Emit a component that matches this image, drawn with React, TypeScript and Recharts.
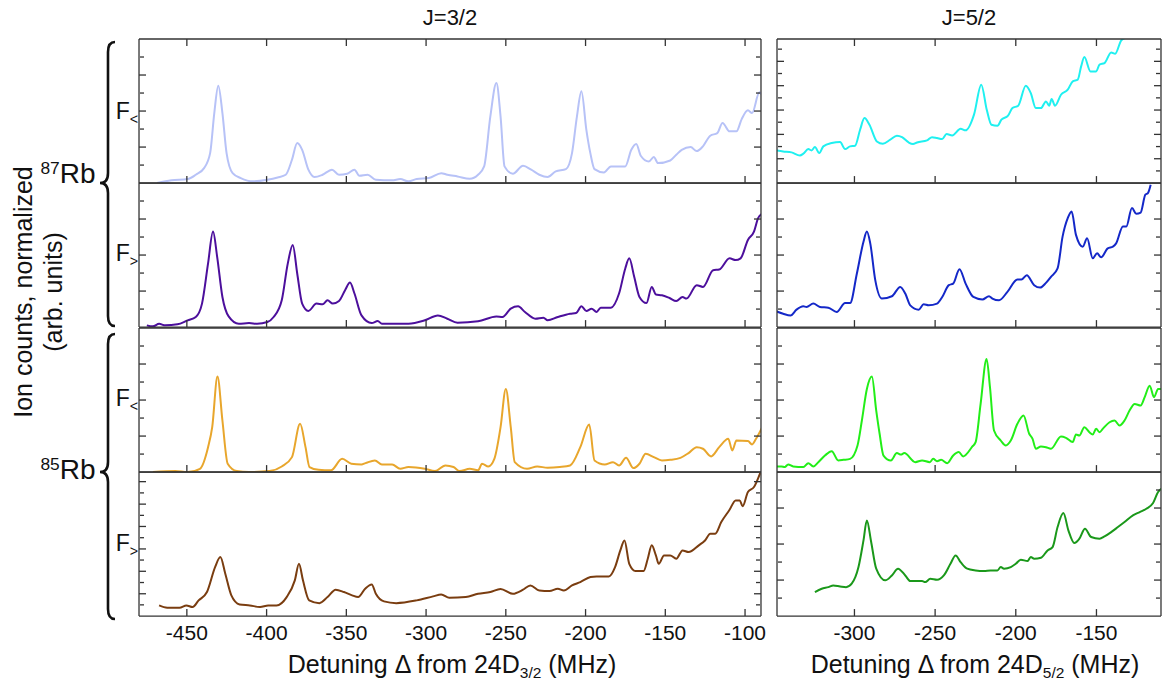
import React from "react";
import { Line, LineChart, XAxis, YAxis } from "recharts";

const FONT = "'Liberation Sans', Arial, sans-serif";
const FRAME = "#333";

// x axes (detuning, MHz)
const xTicksJ32 = [-450, -400, -350, -300, -250, -200, -150, -100];
const xTicksJ52 = [-300, -250, -200, -150];
const domainJ32: [number, number] = [-480, -90];
const domainJ52: [number, number] = [-348, -110];

// y ticks, every panel runs 0..100 (arb. units)
const yMajor8 = [25, 50, 75];
const yMinor8 = [12.5, 37.5, 62.5, 87.5];
const yMajorFine = [16.9, 33.8, 50.7, 67.6, 84.5];
const yMinorFine = [8.45, 25.35, 42.25, 59.15, 76.05, 92.95];
const yMajorL4 = [15.5, 31.1, 46.6, 62.2, 77.7, 93.3];
const yMinorL4 = [7.8, 23.3, 38.9, 54.4, 69.9, 85.5];

// J=3/2, 87Rb F<
const rb87LowJ32: [number, number][] = [
  [-468.7, 0], [-459.7, 1.9], [-449.5, 2.8], [-444.4, 5.8], [-439.2, 10.4], [-435.4, 20.8],
  [-432.8, 48.6], [-430.3, 67.6], [-427.7, 48.6], [-425.1, 20.8], [-421.3, 6.9], [-416.2, 3.5],
  [-408.5, 1.2], [-399.5, 2.3], [-393.1, 3.9], [-388, 5.8], [-384.1, 16.2], [-380.8, 27.8],
  [-377.7, 23.1], [-373.8, 9.3], [-370, 4.2], [-364.9, 5.8], [-359, 9.3], [-354.6, 5.8],
  [-349.5, 6.5], [-344.9, 9.3], [-341.8, 5.1], [-336.7, 5.8], [-331.5, 2.3], [-321.3, 1.9],
  [-316.2, 2.8], [-311, 1.2], [-305.9, 2.8], [-298.2, 3.5], [-290.5, 6.9], [-286.7, 5.8],
  [-280.3, 4.6], [-272.6, 3.0], [-267.4, 5.8], [-263.6, 11.6], [-259.7, 46.3], [-255.9, 69.4],
  [-253.3, 46.3], [-250.8, 11.6], [-245.6, 6.5], [-239.2, 12.0], [-234.1, 9.3], [-229, 5.8],
  [-223.8, 4.2], [-218.7, 8.1], [-212.3, 9.7], [-208.5, 20.8], [-205.4, 46.3], [-202.6, 63.7],
  [-199.5, 37], [-197, 20.8], [-194.4, 9.7], [-188.5, 7.4], [-184.1, 11.6], [-175.1, 11.6],
  [-171.3, 23.1], [-168.2, 27.1], [-165.4, 19], [-160.3, 15], [-157.2, 18.1], [-154.6, 13.9],
  [-146.9, 15.7], [-143.1, 19.7], [-139.7, 23.1], [-134.1, 25], [-130.3, 22.2], [-126.4, 25.5],
  [-121.8, 32.9], [-117.4, 34.7], [-114.1, 41.7], [-109.7, 35.9], [-105.4, 35.9], [-102.1, 44.4],
  [-98.2, 50.5], [-95.6, 48.6], [-91, 63], [-89.4, 61.3],
];

// J=3/2, 87Rb F>
const rb87HighJ32: [number, number][] = [
  [-475.1, 1.2], [-471.3, 0.5], [-467.4, 2.3], [-463.6, 1.2], [-455.9, 1.9], [-449.5, 4.7],
  [-444.4, 7.0], [-440.5, 16.3], [-436.7, 44.2], [-433.6, 66.3], [-431, 48.8], [-427.7, 20.9],
  [-423.8, 7.4], [-417.4, 2.3], [-411, 2.8], [-405.9, 2.3], [-399.5, 3.5], [-395.6, 7.0],
  [-390.5, 18.6], [-386.7, 44.2], [-383.6, 57.0], [-380.8, 37.2], [-377.7, 16.3], [-373.8, 11.2],
  [-368.7, 16.3], [-364.9, 15.8], [-361.8, 18.6], [-358.5, 16.3], [-354.6, 18.1], [-350.8, 25.6],
  [-347.7, 30.9], [-344.9, 23.3], [-340.5, 8.1], [-334.1, 2.8], [-330.3, 4.2], [-327.7, 2.3],
  [-311, 2.3], [-300.8, 4.7], [-292.6, 8.1], [-286.7, 5.8], [-280.3, 3.0], [-267.4, 4.0],
  [-255.9, 7.4], [-252.1, 7.0], [-246.9, 12.8], [-242.3, 14.4], [-238, 10.5], [-231.5, 5.8],
  [-226.4, 6.5], [-223.8, 4.7], [-217.4, 7.0], [-209.7, 9.3], [-205.9, 9.8], [-202.6, 14.4],
  [-199.5, 11.2], [-196.2, 12.8], [-193.1, 10.5], [-190.5, 13.5], [-184.1, 13.5], [-179, 23.3],
  [-175.1, 40.7], [-172.6, 47.7], [-169.5, 34.9], [-166.2, 20.9], [-161.8, 16.7], [-158.5, 27.9],
  [-155.9, 22.6], [-152.1, 22.1], [-147.4, 20.2], [-143.1, 18.1], [-139.2, 20.9], [-136.7, 19.8],
  [-130.3, 29.1], [-126.4, 27.9], [-120, 39.5], [-116.2, 40], [-109.7, 47.7], [-105.9, 46.5],
  [-102.8, 47.7], [-98.2, 60.5], [-94.4, 66.3], [-91.8, 75.6], [-89.4, 78.6],
];

// J=3/2, 85Rb F<
const rb85LowJ32: [number, number][] = [
  [-471.3, 0], [-457.2, 0.7], [-449.5, 0], [-441.8, 2.3], [-436.7, 17.3], [-434.1, 31.2],
  [-430.8, 66.3], [-427.7, 35.8], [-424.4, 5.8], [-418.7, 0.7], [-411, 0], [-398.2, 0.7],
  [-390.5, 3.9], [-384.1, 10.4], [-379, 33.5], [-375.6, 17.3], [-373.1, 3.5], [-367.4, 1.6],
  [-359.7, 1.2], [-352.6, 9.2], [-346.9, 5.8], [-340.5, 5.3], [-338, 6.2], [-332.1, 8.1],
  [-327.7, 5.3], [-321.3, 5.3], [-316.2, 2.3], [-311, 3.5], [-300.8, 2.3], [-294.4, 0.7],
  [-287.9, 4.6], [-282.8, 3.5], [-279, 0.7], [-272.6, 2.3], [-267.4, 1.2], [-264.9, 5.8],
  [-261, 3.9], [-257.2, 9.2], [-253.3, 31.2], [-250, 57.7], [-246.9, 31.2], [-244.4, 6.9],
  [-236.7, 2.3], [-230.3, 3.9], [-223.8, 3.0], [-216.2, 3.5], [-209.7, 4.6], [-203.3, 17.3],
  [-197.7, 33], [-194.4, 8.1], [-188, 5.3], [-182.8, 6.9], [-179, 4.6], [-174.6, 9.9],
  [-170, 2.8], [-166.2, 5.8], [-162.3, 12.7], [-157.2, 10.4], [-152.1, 8.1], [-146.9, 8.5],
  [-140.5, 9.9], [-135.4, 13.2], [-130.3, 17.3], [-126.4, 16.2], [-121.3, 10.9], [-116.2, 17.3],
  [-110.5, 23.1], [-108, 15], [-105.4, 21.9], [-98.2, 21.5], [-95.6, 19.2], [-93.1, 23.1],
  [-89.4, 30.7],
];

// J=3/2, 85Rb F>
const rb85HighJ32: [number, number][] = [
  [-467.4, 7.4], [-462.3, 5.8], [-454.6, 5.8], [-450.3, 7.4], [-446.4, 6.3], [-442.6, 10.9],
  [-437.4, 16.7], [-432.3, 34], [-429, 41], [-425.9, 29.4], [-422.1, 14.4], [-416.9, 8.1],
  [-410.5, 7.4], [-404.1, 6.3], [-399, 7.4], [-393.8, 7.4], [-387.4, 13.2], [-382.3, 24.8],
  [-379.7, 36.3], [-377.2, 24.8], [-373.3, 10.9], [-366.9, 9.0], [-361.8, 13.2], [-356.7, 18.3],
  [-351.5, 16.7], [-346.4, 14.4], [-342.6, 13.2], [-338.2, 19], [-334.1, 22], [-331.5, 15.5],
  [-326.4, 10.2], [-318.7, 9], [-305.9, 10.9], [-295.6, 13.7], [-290.5, 15], [-285.4, 12.7],
  [-275.1, 13.2], [-267.4, 15.5], [-259.7, 16.7], [-253.3, 18.8], [-245.6, 15.5], [-239.2, 18.3],
  [-234.6, 21.3], [-229, 17.8], [-222.6, 17.4], [-217.4, 19], [-213.6, 17.8], [-208.5, 21.3],
  [-203.3, 23.6], [-196.9, 27.1], [-193.1, 27.5], [-185.4, 27.5], [-181.5, 34], [-178.2, 45.6],
  [-175.6, 52.5], [-172.6, 36.3], [-168.7, 31.3], [-163.6, 31.3], [-161, 39.8], [-158.5, 49.1],
  [-155.9, 42.1], [-154.1, 36.3], [-150.8, 42.1], [-146.9, 42.1], [-143.1, 39.8], [-139.2, 45.6],
  [-135.4, 44.4], [-129, 49.1], [-125.1, 52.5], [-121.8, 57.2], [-118.7, 57.2], [-114.9, 65.3],
  [-109.7, 73.8], [-105.9, 80.3], [-103.3, 80.3], [-101.5, 76.2], [-98.2, 86.1], [-94.4, 89.6],
  [-90.5, 99.3],
];

// J=5/2, 87Rb F<
const rb87LowJ52: [number, number][] = [
  [-348.3, 22.7], [-344.2, 22], [-339, 21.3], [-333.8, 19.2], [-331.7, 20.4], [-328.6, 23.6],
  [-326.6, 22.7], [-324.5, 25], [-321.8, 20.8], [-319.3, 25.5], [-314.1, 27.8], [-308.9, 28.5],
  [-305.8, 23.6], [-302.7, 25.5], [-299.6, 25.9], [-296.5, 37], [-293.8, 45.1], [-290.7, 40.5],
  [-286.1, 28.9], [-282.4, 27.3], [-277.8, 30.1], [-273.7, 32.9], [-270.5, 31.9], [-266.4, 28.2],
  [-263.7, 27.1], [-261.2, 28.2], [-255, 29.6], [-251.9, 31.9], [-248.8, 31.3], [-245.6, 30.6],
  [-242.9, 34], [-239.4, 33.1], [-234.2, 37.7], [-231.1, 36.6], [-225.9, 47.5], [-221.4, 68.3],
  [-218, 50.9], [-215.1, 40.5], [-211.4, 39.8], [-208.9, 44], [-204.8, 46.8], [-202.1, 52.1],
  [-198.5, 53.7], [-193.8, 67.6], [-190.7, 62.5], [-187.6, 52.1], [-184.4, 52.1], [-181.3, 56.7],
  [-179.3, 53.7], [-177.8, 58.3], [-175.7, 53.7], [-172, 61.3], [-167.8, 64.8], [-164.7, 70.6],
  [-161.6, 71.8], [-159.5, 81], [-157.5, 87.5], [-153.7, 77.5], [-150.2, 77.5], [-148.1, 82.2],
  [-145, 83.3], [-140.9, 90.7], [-138.4, 89.8], [-134.6, 99.1], [-132.1, 100.7],
];

// J=5/2, 87Rb F>
const rb87HighJ52: [number, number][] = [
  [-348.3, 10.9], [-344.2, 9.3], [-339.6, 8.1], [-335.9, 12.1], [-331.7, 14.4], [-329.7, 14],
  [-325.5, 16.3], [-321.4, 14], [-316.2, 13.5], [-311, 10.5], [-305.8, 16.7], [-302.7, 16.7],
  [-298.5, 37.2], [-294.4, 59.3], [-292.3, 66.3], [-290.2, 58.1], [-287.1, 32.6], [-283, 19.8],
  [-276.8, 21.4], [-271.6, 27.9], [-268.5, 23.3], [-265.4, 15.1], [-260.2, 12.1], [-257.1, 15.8],
  [-254, 15.1], [-248.8, 16.3], [-245.6, 20.9], [-241.5, 29.1], [-238.8, 30.2], [-234.9, 40.2],
  [-231.1, 30.2], [-226.3, 20.9], [-220.7, 19.1], [-216.6, 21.4], [-214.5, 19.8], [-210.4, 18.6],
  [-205.2, 24.4], [-199, 33], [-196.5, 33], [-193.2, 36], [-188.6, 29.1], [-184.9, 27.4],
  [-181.3, 30.7], [-178.2, 34.9], [-174.1, 40.7], [-171, 62.8], [-167.8, 75.6], [-165.4, 80.2],
  [-162.7, 64], [-158.5, 55.8], [-155.8, 61.6], [-152.3, 47.7], [-149.6, 51.2], [-147.1, 48.4],
  [-143, 54.7], [-139.8, 55.8], [-137.8, 58.1], [-133.6, 69.8], [-131.5, 69.8], [-128, 82.6],
  [-125.3, 78.6], [-122.6, 79.5], [-119.7, 91.9], [-118.1, 93], [-116.4, 98.8],
];

// J=5/2, 85Rb F<
const rb85LowJ52: [number, number][] = [
  [-348.3, 3.9], [-345.2, 3.9], [-343.2, 3.5], [-341.1, 5.3], [-338, 3.9], [-331.7, 3.5],
  [-328.6, 6.2], [-325.5, 3.9], [-322.4, 6.9], [-318.3, 11.5], [-314.1, 14.5], [-310, 8.1],
  [-306.8, 8.5], [-302.7, 9.2], [-298.1, 18.5], [-295.4, 35.8], [-292.3, 57.7], [-289.2, 66.3],
  [-286.5, 42.7], [-284.4, 26.6], [-282, 11.5], [-277.4, 8.1], [-273.7, 13.2], [-271.2, 12.2],
  [-269.1, 13.2], [-262.3, 6.9], [-258.1, 8.1], [-253.3, 6.9], [-251.2, 9.2], [-248.8, 7.6],
  [-246.3, 8.5], [-242.5, 6.2], [-238.8, 11.5], [-235.3, 13.9], [-232.6, 10.9], [-226.9, 17.8],
  [-224.9, 20.8], [-221.8, 47.3], [-218.1, 78.5], [-216, 58.9], [-213.5, 28.9], [-209.3, 21.9],
  [-206.2, 18.5], [-203.1, 21.9], [-199, 33.5], [-195.2, 39.3], [-191.7, 26.6], [-189.6, 23.1],
  [-187.6, 16.2], [-184.4, 17.8], [-181.3, 17.3], [-178.2, 16.2], [-172, 24.7], [-168.9, 23.8],
  [-164.7, 20.8], [-162.7, 26.1], [-160.6, 25.4], [-157.5, 31.2], [-154.4, 27.7], [-152.3, 26.1],
  [-150.2, 30], [-148.1, 27.7], [-146.1, 30], [-141.9, 34.6], [-138.8, 35.8], [-135.7, 32.3],
  [-132.6, 35.8], [-129.5, 42.7], [-126.3, 47.3], [-122.6, 46.2], [-120.1, 52], [-117, 60],
  [-114.3, 52], [-111.8, 57.7], [-109.8, 57.7],
];

// J=5/2, 85Rb F>
const rb85HighJ52: [number, number][] = [
  [-324.5, 16.7], [-320.3, 19], [-316.2, 20.1], [-313.1, 21.3], [-308.9, 20.6], [-305.2, 20.1],
  [-301.7, 22.5], [-297.5, 34], [-294.4, 52.5], [-292.3, 66.4], [-289.8, 52.5], [-286.5, 32.9],
  [-280.9, 24.8], [-276.8, 28.2], [-273, 32.9], [-268.5, 28.2], [-265.4, 24.3], [-258.1, 24.3],
  [-256.1, 23.6], [-253, 25.9], [-248.8, 25.2], [-244.6, 28.2], [-240.5, 36.3], [-237.3, 42.1],
  [-234.2, 37.5], [-230.1, 32.9], [-224.9, 31.7], [-219.7, 31.3], [-215.6, 31.7], [-211.4, 31.7],
  [-209.3, 34], [-207.3, 32.9], [-203.1, 34], [-200, 36.3], [-196.9, 39.1], [-192.7, 38.2],
  [-190.7, 41], [-188.6, 39.8], [-184.4, 40.5], [-180.3, 45.6], [-177.2, 47.9], [-174.1, 61.8],
  [-170.5, 71.5], [-167.4, 59.5], [-163.7, 50.7], [-160.6, 53.7], [-157.1, 60.6], [-153.3, 54.9],
  [-148.1, 53.7], [-145, 55.3], [-140.9, 58.3], [-136.7, 61.8], [-132.6, 65.3], [-127.4, 69.9],
  [-123.2, 72.2], [-119.1, 74.5], [-114.9, 78.5], [-111.8, 86.1], [-109.8, 88.4],
];

const PAD_X = 30;
const PAD_Y = 3;
const PANEL_H = 144.1;
const ROW_TOP = 39.3;

// ticks without labels: recharts skips tick marks entirely when tick={false}
const NoLabel = () => <g />;

interface PanelProps {
  data: [number, number][];
  color: string;
  left: number;
  row: number;
  width: number;
  domain: [number, number];
  xTicks: number[];
  yMajor: number[];
  yMinor: number[];
}

function Panel({ data, color, left, row, width, domain, xTicks, yMajor, yMinor }: PanelProps) {
  const rows = data.map(([d, v]) => ({ d, v }));
  const isTop = row === 0;
  const isBottom = row === 3;
  const extra = isBottom ? 48 : 0;
  const frame = { stroke: FRAME, strokeWidth: 1.3 };
  return (
    <div style={{ position: "absolute", left: left - PAD_X, top: ROW_TOP + row * PANEL_H - PAD_Y }}>
      <LineChart
        width={width + 2 * PAD_X}
        height={PANEL_H + 2 * PAD_Y + extra}
        data={rows}
        margin={{ top: PAD_Y, right: PAD_X, bottom: PAD_Y, left: PAD_X }}
      >
        <XAxis
          xAxisId="t"
          type="number"
          dataKey="d"
          domain={domain}
          allowDataOverflow
          ticks={xTicks}
          interval={0}
          orientation="top"
          mirror
          height={1}
          tick={NoLabel}
          tickSize={7}
          axisLine={frame}
          tickLine={isTop ? frame : false}
        />
        {isBottom && (
          <XAxis
            xAxisId="lab"
            type="number"
            dataKey="d"
            domain={domain}
            allowDataOverflow
            ticks={xTicks}
            interval={0}
            orientation="bottom"
            height={extra}
            axisLine={false}
            tickLine={false}
            tickSize={0}
            tickMargin={9}
            tick={{ fontSize: 21, fill: "#111", fontFamily: FONT }}
          />
        )}
        <XAxis
          xAxisId="b"
          type="number"
          dataKey="d"
          domain={domain}
          allowDataOverflow
          ticks={xTicks}
          interval={0}
          orientation="bottom"
          mirror
          height={1}
          tick={NoLabel}
          tickSize={7}
          axisLine={frame}
          tickLine={frame}
        />
        <YAxis yAxisId="L" type="number" domain={[0, 100]} allowDataOverflow ticks={yMajor} interval={0}
          orientation="left" mirror width={1} tick={NoLabel} tickSize={7} axisLine={frame} tickLine={frame} />
        <YAxis yAxisId="Lm" type="number" domain={[0, 100]} allowDataOverflow ticks={yMinor} interval={0}
          orientation="left" mirror width={1} tick={NoLabel} tickSize={4} axisLine={false} tickLine={frame} />
        <YAxis yAxisId="R" type="number" domain={[0, 100]} allowDataOverflow ticks={yMajor} interval={0}
          orientation="right" mirror width={1} tick={NoLabel} tickSize={7} axisLine={frame} tickLine={frame} />
        <YAxis yAxisId="Rm" type="number" domain={[0, 100]} allowDataOverflow ticks={yMinor} interval={0}
          orientation="right" mirror width={1} tick={NoLabel} tickSize={4} axisLine={false} tickLine={frame} />
        <Line
          xAxisId="b"
          yAxisId="L"
          type="monotone"
          dataKey="v"
          stroke={color}
          strokeWidth={2}
          dot={false}
          isAnimationActive={false}
        />
      </LineChart>
    </div>
  );
}

const LEFT_X = 139;
const LEFT_W = 622;
const RIGHT_X = 777;
const RIGHT_W = 384;

function Txt({ x, y, size, children, rotate }: { x: number; y: number; size: number; children: React.ReactNode; rotate?: boolean }) {
  return (
    <div
      style={{
        position: "absolute",
        left: x,
        top: y,
        transform: `translate(-50%, -50%)${rotate ? " rotate(-90deg)" : ""}`,
        fontFamily: FONT,
        fontSize: size,
        color: "#111",
        whiteSpace: "nowrap",
        lineHeight: 1,
      }}
    >
      {children}
    </div>
  );
}

function brace(x: number, y0: number, y1: number, ym: number) {
  const xe = x + 7;
  const xt = x - 8;
  const r = 10;
  return `M ${xe} ${y0} Q ${x} ${y0} ${x} ${y0 + r} L ${x} ${ym - r} Q ${x} ${ym} ${xt} ${ym} Q ${x} ${ym} ${x} ${ym + r} L ${x} ${y1 - r} Q ${x} ${y1} ${xe} ${y1}`;
}

const sub = { fontSize: "0.62em", verticalAlign: "-0.3em" } as const;
const sup = { fontSize: "0.62em", verticalAlign: "0.55em" } as const;

export default function App() {
  return (
    <div style={{ position: "absolute", left: 0, top: 0, width: 1168, height: 685, background: "#fff", overflow: "hidden" }}>
      <Panel data={rb87LowJ32} color="#b7c2f7" left={LEFT_X} row={0} width={LEFT_W} domain={domainJ32} xTicks={xTicksJ32} yMajor={yMajor8} yMinor={yMinor8} />
      <Panel data={rb87HighJ32} color="#4c0f9c" left={LEFT_X} row={1} width={LEFT_W} domain={domainJ32} xTicks={xTicksJ32} yMajor={yMajor8} yMinor={yMinor8} />
      <Panel data={rb85LowJ32} color="#e8a62c" left={LEFT_X} row={2} width={LEFT_W} domain={domainJ32} xTicks={xTicksJ32} yMajor={yMajor8} yMinor={yMinor8} />
      <Panel data={rb85HighJ32} color="#7a3d10" left={LEFT_X} row={3} width={LEFT_W} domain={domainJ32} xTicks={xTicksJ32} yMajor={yMajorL4} yMinor={yMinorL4} />

      <Panel data={rb87LowJ52} color="#1ff0f0" left={RIGHT_X} row={0} width={RIGHT_W} domain={domainJ52} xTicks={xTicksJ52} yMajor={yMajorFine} yMinor={yMinorFine} />
      <Panel data={rb87HighJ52} color="#1428c8" left={RIGHT_X} row={1} width={RIGHT_W} domain={domainJ52} xTicks={xTicksJ52} yMajor={yMajor8} yMinor={yMinor8} />
      <Panel data={rb85LowJ52} color="#22ee18" left={RIGHT_X} row={2} width={RIGHT_W} domain={domainJ52} xTicks={xTicksJ52} yMajor={yMajor8} yMinor={yMinor8} />
      <Panel data={rb85HighJ52} color="#1a981a" left={RIGHT_X} row={3} width={RIGHT_W} domain={domainJ52} xTicks={xTicksJ52} yMajor={yMajor8} yMinor={yMinor8} />

      <Txt x={450} y={18} size={22}>J=3/2</Txt>
      <Txt x={969} y={18} size={22}>J=5/2</Txt>

      <Txt x={452} y={666} size={25}>
        Detuning &Delta; from 24D<span style={sub}>3/2</span> (MHz)
      </Txt>
      <Txt x={975} y={666} size={25}>
        Detuning &Delta; from 24D<span style={sub}>5/2</span> (MHz)
      </Txt>

      <Txt x={23} y={292} size={25} rotate>Ion counts, normalized</Txt>
      <Txt x={53} y={292} size={25} rotate>(arb. units)</Txt>

      <Txt x={68} y={174} size={28}><span style={sup}>87</span>Rb</Txt>
      <Txt x={68} y={470} size={28}><span style={sup}>85</span>Rb</Txt>

      <Txt x={127} y={113} size={23}>F<span style={sub}>&lt;</span></Txt>
      <Txt x={127} y={255} size={23}>F<span style={sub}>&gt;</span></Txt>
      <Txt x={127} y={400} size={23}>F<span style={sub}>&lt;</span></Txt>
      <Txt x={127} y={545} size={23}>F<span style={sub}>&gt;</span></Txt>

      <svg width={1168} height={685} style={{ position: "absolute", left: 0, top: 0, pointerEvents: "none" }}>
        <path d={brace(108, 42, 326, 183)} fill="none" stroke="#111" strokeWidth={2.6} />
        <path d={brace(108, 334, 619, 472)} fill="none" stroke="#111" strokeWidth={2.6} />
      </svg>
    </div>
  );
}
